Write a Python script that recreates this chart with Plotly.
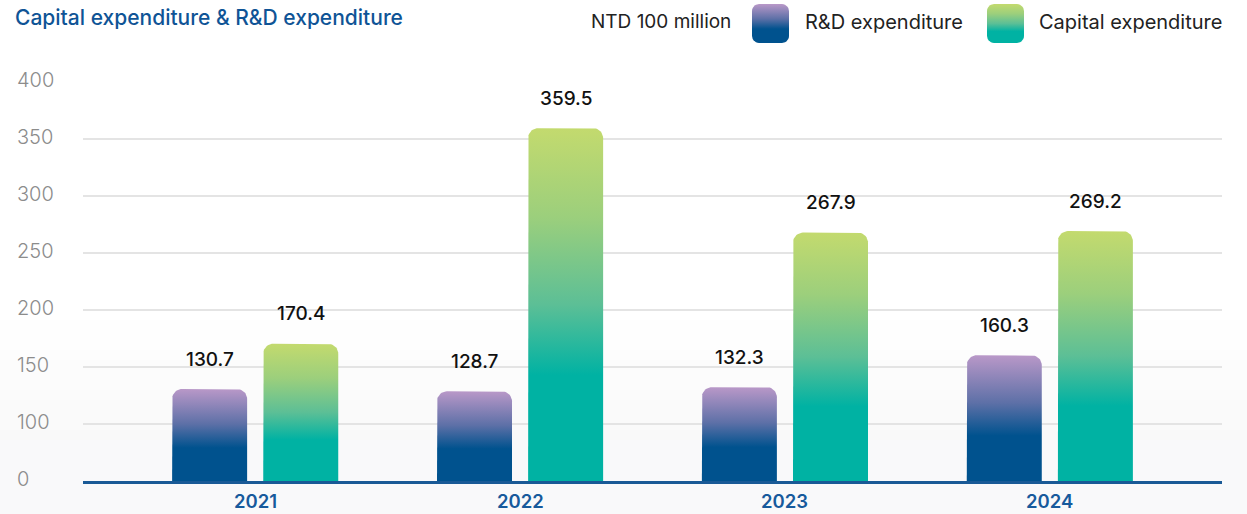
import numpy as np
import plotly.graph_objects as go

# ---------------- data ----------------
years = ["2021", "2022", "2023", "2024"]
rd_values = [130.7, 128.7, 132.3, 160.3]          # R&D expenditure (NTD 100 million)
capex_values = [170.4, 359.5, 267.9, 269.2]       # Capital expenditure (NTD 100 million)
y_tickvals = [50, 100, 150, 200, 250, 300, 350, 400]
y_ticktext = ["0", "100", "150", "200", "250", "300", "350", "400"]  # broken axis: bottom labelled 0
axis_base = 50

title_text = "Capital expenditure & R&D expenditure"
unit_text = "NTD 100 million"
rd_name = "R&D expenditure"
capex_name = "Capital expenditure"

# ---------------- layout geometry / styles ----------------
W, H = 1247, 514
plot_l, plot_r, plot_t, plot_b = 83, 1222, 82, 481
x_range = [-0.65, 3.65]
y_range = [axis_base, 400]
px_x = (plot_r - plot_l) / (x_range[1] - x_range[0])
px_y = (plot_b - plot_t) / (y_range[1] - y_range[0])

bar_offset = 0.172
bar_half = 37.5 / px_x
radius_px = 10

FONT = "Inter"
BLUE = "#0f5496"
rd_scale = [[0, "#00528e"], [0.36, "#00528e"], [0.62, "#5d70a7"], [1, "#b998c8"]]
capex_scale = [[0, "#00b2a3"], [0.3, "#00b2a3"], [0.5, "#5cbf96"], [0.75, "#9ccf7c"], [1, "#c3da6e"]]


def rounded_bar(xc, half_w, base, top, r_px, sx, sy):
    rx = r_px / sx
    ry = min(r_px / sy, (top - base))
    t1 = np.linspace(np.pi, np.pi / 2, 12)
    t2 = np.linspace(np.pi / 2, 0, 12)
    cxl, cxr, cy = xc - half_w + rx, xc + half_w - rx, top - ry
    xs = [xc - half_w] + list(cxl + rx * np.cos(t1)) + list(cxr + rx * np.cos(t2)) + [xc + half_w, xc - half_w]
    ys = [base] + list(cy + ry * np.sin(t1)) + list(cy + ry * np.sin(t2)) + [base, base]
    return xs, ys


fig = go.Figure()

# bars
for series, scale, sign in [(rd_values, rd_scale, -1), (capex_values, capex_scale, 1)]:
    for i, v in enumerate(series):
        xs, ys = rounded_bar(i + sign * bar_offset, bar_half, axis_base, v, radius_px, px_x, px_y)
        fig.add_trace(go.Scatter(
            x=xs, y=ys, mode="lines", line=dict(width=0), fill="toself",
            fillgradient=dict(type="vertical", colorscale=scale, start=axis_base, stop=v),
            hoverinfo="skip", showlegend=False, xaxis="x", yaxis="y"))

# value labels
annotations = []
for series, sign in [(rd_values, -1), (capex_values, 1)]:
    for i, v in enumerate(series):
        annotations.append(dict(
            x=i + sign * bar_offset, y=v, xref="x", yref="y", text=f"{v:.1f}",
            showarrow=False, yshift=30, yanchor="middle", xanchor="center",
            font=dict(family=FONT, size=19, color="#111111", weight=500)))

# y tick labels (left aligned)
for tv, tt in zip(y_tickvals, y_ticktext):
    annotations.append(dict(
        x=15 / W, y=tv, xref="paper", yref="y", text=tt, showarrow=False,
        xanchor="left", yanchor="middle", yshift=2,
        font=dict(family=FONT, size=20, color="#8c8c8c", weight=300)))

# x tick labels (years), placed just below the baseline
for i, yr in enumerate(years):
    annotations.append(dict(
        x=i, y=1 - 501 / H, xref="x", yref="paper", text=yr, showarrow=False,
        xanchor="center", yanchor="middle", borderpad=0,
        font=dict(family=FONT, size=18.5, color="#175a9c", weight=600)))

# title & legend texts
annotations.append(dict(x=13 / W, y=1 - 18 / H, xref="paper", yref="paper", text=title_text,
                        showarrow=False, xanchor="left", yanchor="middle",
                        font=dict(family=FONT, size=21, color=BLUE, weight=500)))
annotations.append(dict(x=589 / W, y=1 - 22 / H, xref="paper", yref="paper", text=unit_text,
                        showarrow=False, xanchor="left", yanchor="middle",
                        font=dict(family=FONT, size=19, color="#222222")))
annotations.append(dict(x=803 / W, y=1 - 22 / H, xref="paper", yref="paper", text=rd_name,
                        showarrow=False, xanchor="left", yanchor="middle",
                        font=dict(family=FONT, size=20, color="#222222")))
annotations.append(dict(x=1037 / W, y=1 - 22 / H, xref="paper", yref="paper", text=capex_name,
                        showarrow=False, xanchor="left", yanchor="middle",
                        font=dict(family=FONT, size=20, color="#222222")))

# legend swatches drawn on a pixel-unit overlay axis pair (y measured from bottom)
for x0, scale in [(752, rd_scale), (987, capex_scale)]:
    sw_base, sw_top = H - 43, H - 4
    r = 7
    cx0, cx1 = x0 + r, x0 + 37 - r
    cy0, cy1 = sw_base + r, sw_top - r
    px, py = [], []
    for (cx, cy, a0, a1) in [(cx1, cy1, 0, np.pi / 2), (cx0, cy1, np.pi / 2, np.pi),
                             (cx0, cy0, np.pi, 1.5 * np.pi), (cx1, cy0, 1.5 * np.pi, 2 * np.pi)]:
        tt = np.linspace(a0, a1, 8)
        px += list(cx + r * np.cos(tt))
        py += list(cy + r * np.sin(tt))
    px.append(px[0]); py.append(py[0])
    fig.add_trace(go.Scatter(
        x=px, y=py, mode="lines", line=dict(width=0), fill="toself",
        fillgradient=dict(type="vertical", colorscale=scale, start=sw_base, stop=sw_top),
        hoverinfo="skip", showlegend=False, xaxis="x2", yaxis="y2"))

# subtle background gradient at the bottom
shapes = []
n = 12
for k in range(n):
    y0p = 320 + k * 10
    c = int(round(255 - 6 * (k + 1) / n))
    shapes.append(dict(type="rect", xref="paper", yref="paper", x0=0, x1=1,
                       y0=1 - (y0p + 10) / H, y1=1 - y0p / H, line=dict(width=0),
                       fillcolor=f"rgb({c},{c},{c})", layer="below"))
shapes.append(dict(type="rect", xref="paper", yref="paper", x0=0, x1=1,
                   y0=0, y1=1 - 440 / H, line=dict(width=0),
                   fillcolor="rgb(249,249,250)", layer="below"))

fig.update_layout(
    template="none",
    width=W, height=H,
    margin=dict(l=0, r=0, t=0, b=0),
    paper_bgcolor="white", plot_bgcolor="rgba(0,0,0,0)",
    showlegend=False,
    annotations=annotations,
    shapes=shapes,
    xaxis=dict(domain=[plot_l / W, plot_r / W], range=x_range, tickvals=list(range(len(years))),
               showticklabels=False, showgrid=False, zeroline=False, showline=True,
               linecolor="#1a5a96", linewidth=3, ticks="", automargin=False, fixedrange=True),
    yaxis=dict(domain=[1 - plot_b / H, 1 - plot_t / H], range=y_range, tickvals=y_tickvals,
               showticklabels=False, showgrid=True, gridcolor="#e4e4e4", gridwidth=1.5,
               zeroline=False, showline=False, ticks="", automargin=False, fixedrange=True),
    xaxis2=dict(domain=[0, 1], range=[0, W], visible=False, anchor="y2", fixedrange=True),
    yaxis2=dict(domain=[0, 1], range=[0, H], visible=False, anchor="x2", fixedrange=True),
)

fig.write_html("out.html", config={"displayModeBar": False})
